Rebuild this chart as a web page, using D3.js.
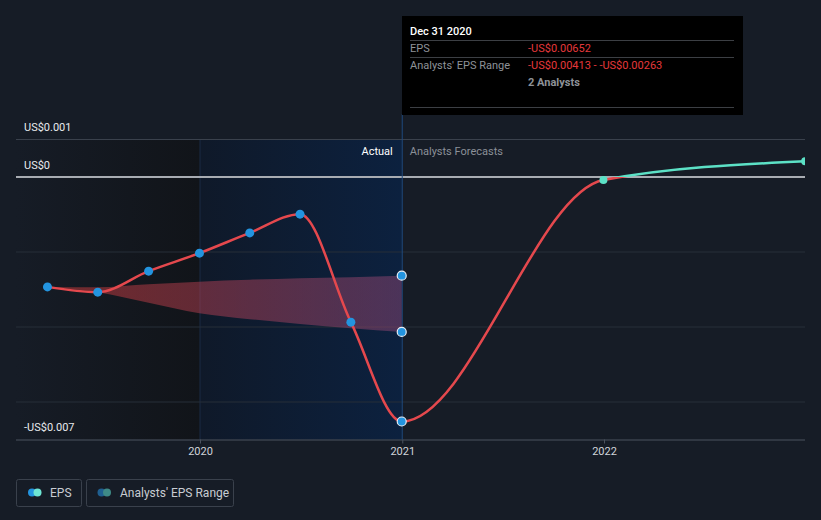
<!DOCTYPE html>
<html><head><meta charset="utf-8">
<script src="https://cdn.jsdelivr.net/npm/d3@7"></script>
<style>
html,body{margin:0;padding:0;background:#161c26;}
svg{display:block;font-family:Roboto,"Open Sans",sans-serif;}
</style></head><body>
<svg id="c" width="821" height="520"></svg>
<script>
// ---- data ----
const epsDates = ["2019-03-31","2019-06-30","2019-09-30","2019-12-31","2020-03-31","2020-06-30","2020-09-30","2020-12-31"];
const epsValues = [-0.00293,-0.00307,-0.00251,-0.00203,-0.00149,-0.00099,-0.00387,-0.00652];
const fcDates = ["2020-12-31","2021-12-31","2022-12-31"];
const fcValues = [-0.00652,-0.00008,0.00042];
const rangeDates = ["2019-03-31","2019-06-30","2019-09-30","2019-12-31","2020-03-31","2020-06-30","2020-09-30","2020-12-31"];
const rangeLow  = [-0.00293,-0.00307,-0.00335,-0.00363,-0.00379,-0.00392,-0.00403,-0.00413];
const rangeHigh = [-0.00293,-0.00294,-0.00286,-0.00279,-0.00274,-0.00270,-0.00267,-0.00263];
const yTickValues = [0.001, 0, -0.007];
const yTickLabels = ["US$0.001","US$0","-US$0.007"];
const gridValues = [0.001,-0.002,-0.004,-0.006];
const xTickYears = [2020,2021,2022];

const parse = d3.timeParse("%Y-%m-%d");
const svg = d3.select("#c");
const x = d3.scaleTime().domain([new Date(2020,0,1), new Date(2022,0,1)]).range([200,604]);
const y = d3.scaleLinear().domain([-0.007,0.001]).range([439.5,139.5]);
const L = 16, R = 805;

const defs = svg.append("defs");
defs.append("clipPath").attr("id","plotClip").append("rect").attr("x",0).attr("y",0).attr("width",R).attr("height",520);
const g1 = defs.append("linearGradient").attr("id","pastG").attr("x1",0).attr("x2",1).attr("y1",0).attr("y2",0);
g1.append("stop").attr("offset",0).attr("stop-color","#161c26");
g1.append("stop").attr("offset",1).attr("stop-color","#111419");
const g2 = defs.append("linearGradient").attr("id","actG").attr("x1",0).attr("x2",1).attr("y1",0).attr("y2",0);
g2.append("stop").attr("offset",0).attr("stop-color","#0f1929");
g2.append("stop").attr("offset",1).attr("stop-color","#0c213f");
const g3 = defs.append("linearGradient").attr("id","bandG").attr("x1",0).attr("x2",1).attr("y1",0).attr("y2",0);
g3.append("stop").attr("offset",0).attr("stop-color","#d23a36").attr("stop-opacity",0.5);
g3.append("stop").attr("offset",1).attr("stop-color","#9a4a7a").attr("stop-opacity",0.45);
const g4 = defs.append("linearGradient").attr("id","lineG").attr("gradientUnits","userSpaceOnUse")
  .attr("x1",0).attr("x2",0).attr("y1",y(0.001)).attr("y2",y(-0.007));
const zf = (y(0)-y(0.001))/(y(-0.007)-y(0.001));
g4.append("stop").attr("offset",0).attr("stop-color","#5ce1c6");
g4.append("stop").attr("offset",zf).attr("stop-color","#5ce1c6");
g4.append("stop").attr("offset",zf).attr("stop-color","#e5484d");
g4.append("stop").attr("offset",1).attr("stop-color","#e5484d");

// shaded regions
const tEnd = parse("2020-12-31");
svg.append("rect").attr("x",L).attr("y",y(0.001)).attr("width",x(new Date(2020,0,1))-L).attr("height",y(-0.007)-y(0.001)).attr("fill","url(#pastG)");
svg.append("rect").attr("x",x(new Date(2020,0,1))).attr("y",y(0.001)).attr("width",x(tEnd)-x(new Date(2020,0,1))).attr("height",y(-0.007)-y(0.001)).attr("fill","url(#actG)");
svg.append("line").attr("x1",x(new Date(2020,0,1))).attr("x2",x(new Date(2020,0,1))).attr("y1",y(0.001)).attr("y2",y(-0.007)).attr("stroke","#1a2b44").attr("stroke-width",1);

// grid
svg.append("g").selectAll("line").data(gridValues).join("line")
  .attr("x1",L).attr("x2",R).attr("y1",d=>y(d)).attr("y2",d=>y(d))
  .attr("stroke",(d)=> d===0.001 ? "#3a414c" : "#272e39").attr("stroke-width",1);
// x axis
const xa = svg.append("g").attr("transform",`translate(0,${y(-0.007)})`)
  .call(d3.axisBottom(x).tickValues(xTickYears.map(v=>new Date(v,0,1))).tickFormat(d3.timeFormat("%Y")).tickSize(4).tickPadding(4));
xa.select(".domain").attr("d",`M${L},0.5H${R}`).attr("stroke","#4a525e");
xa.selectAll(".tick line").attr("stroke","#4a525e");
xa.selectAll(".tick text").attr("fill","#d0d4da").attr("font-size",11).attr("font-family","Roboto");
// zero line
svg.append("line").attr("x1",L).attr("x2",R).attr("y1",y(0)).attr("y2",y(0)).attr("stroke","#a8acb2").attr("stroke-width",2);
// hover line
svg.append("line").attr("x1",x(tEnd)+0.5).attr("x2",x(tEnd)+0.5).attr("y1",114).attr("y2",y(-0.007)).attr("stroke","#1e4a7e").attr("stroke-width",1);

// y labels
svg.append("g").selectAll("text").data(yTickValues).join("text")
  .attr("x",24).attr("y",d=>y(d)-8.5).text((d,i)=>yTickLabels[i])
  .attr("fill","#e8eaed").attr("font-size",11);

// Actual / forecast labels
svg.append("text").attr("x",x(tEnd)-9).attr("y",155).attr("text-anchor","end").attr("fill","#ffffff").attr("font-size",11).text("Actual");
svg.append("text").attr("x",x(tEnd)+8).attr("y",155).attr("fill","#8b9098").attr("font-size",11).text("Analysts Forecasts");

// band
const band = rangeDates.map((d,i)=>({t:parse(d),lo:rangeLow[i],hi:rangeHigh[i]}));
svg.append("path").datum(band)
  .attr("d",d3.area().x(d=>x(d.t)).y0(d=>y(d.lo)).y1(d=>y(d.hi)).curve(d3.curveMonotoneX))
  .attr("fill","url(#bandG)");

// EPS line (actual + forecast)
const plot = svg.append("g").attr("clip-path","url(#plotClip)");
const eps = epsDates.map((d,i)=>({t:parse(d),v:epsValues[i]}));
const fc = fcDates.map((d,i)=>({t:parse(d),v:fcValues[i]}));
const all = eps.concat(fc.slice(1));
plot.append("path").datum(all)
  .attr("d",d3.line().x(d=>x(d.t)).y(d=>y(d.v)).curve(d3.curveMonotoneX))
  .attr("fill","none").attr("stroke","url(#lineG)").attr("stroke-width",2.5);

// points
plot.append("g").selectAll("circle").data(eps.slice(0,-1)).join("circle")
  .attr("cx",d=>x(d.t)).attr("cy",d=>y(d.v)).attr("r",4.5).attr("fill","#2394df");
plot.append("g").selectAll("circle").data(fc.slice(1)).join("circle")
  .attr("cx",d=>x(d.t)).attr("cy",d=>y(d.v)).attr("r",4).attr("fill","#5ce1c6");
const hov = [eps[eps.length-1].v, band[band.length-1].lo, band[band.length-1].hi];
plot.append("g").selectAll("circle").data(hov).join("circle")
  .attr("cx",x(tEnd)).attr("cy",d=>y(d)).attr("r",4.5).attr("fill","#2394df").attr("stroke","#e8eef5").attr("stroke-width",1.2);

// tooltip
const tt = svg.append("g");
tt.append("rect").attr("x",402).attr("y",16).attr("width",341).attr("height",99).attr("fill","#000");
tt.append("text").attr("x",410).attr("y",35).attr("fill","#fff").attr("font-size",11).attr("font-weight",500).text("Dec 31 2020");
[40,57,107].forEach(v=>tt.append("line").attr("x1",410).attr("x2",734).attr("y1",v+0.5).attr("y2",v+0.5).attr("stroke","#3c3f44"));
tt.append("text").attr("x",410).attr("y",52).attr("fill","#8e9298").attr("font-size",11).text("EPS");
tt.append("text").attr("x",528).attr("y",52).attr("fill","#e5383b").attr("font-size",11).text("-US$0.00652");
tt.append("text").attr("x",410).attr("y",69).attr("fill","#8e9298").attr("font-size",11).text("Analysts' EPS Range");
tt.append("text").attr("x",528).attr("y",69).attr("fill","#e5383b").attr("font-size",11).text("-US$0.00413 - -US$0.00263");
tt.append("text").attr("x",528).attr("y",86).attr("fill","#8e9298").attr("font-size",11).attr("font-weight",700).text("2 Analysts");

// legend
const lg = svg.append("g");
lg.append("rect").attr("x",16.5).attr("y",479.5).attr("width",65).attr("height",27).attr("rx",2).attr("fill","none").attr("stroke","#3a414c");
lg.append("circle").attr("cx",32).attr("cy",492.5).attr("r",4).attr("fill","#2394df");
lg.append("circle").attr("cx",37.5).attr("cy",492.5).attr("r",4).attr("fill","#6ee6d4");
lg.append("text").attr("x",50).attr("y",497).attr("fill","#c8ccd2").attr("font-size",12).text("EPS");
lg.append("rect").attr("x",86.5).attr("y",479.5).attr("width",147).attr("height",27).attr("rx",2).attr("fill","none").attr("stroke","#3a414c");
lg.append("circle").attr("cx",101.5).attr("cy",492.5).attr("r",4).attr("fill","#1f5f90");
lg.append("circle").attr("cx",107).attr("cy",492.5).attr("r",4).attr("fill","#3e8a86");
lg.append("text").attr("x",120).attr("y",497).attr("fill","#c8ccd2").attr("font-size",12).text("Analysts' EPS Range");
</script>
</body></html>
